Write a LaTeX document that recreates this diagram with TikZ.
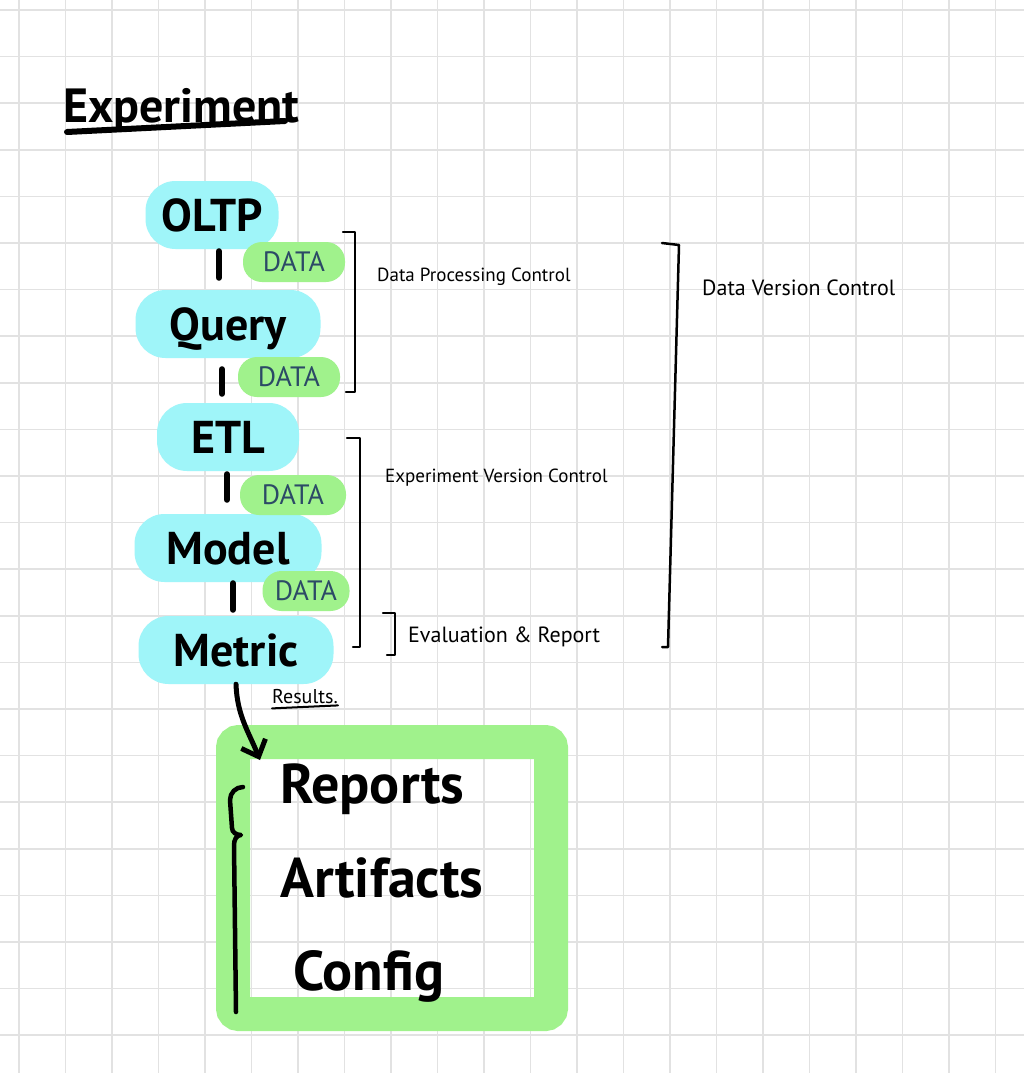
\documentclass[tikz,border=0pt]{standalone}
\usepackage{fontspec}
\setmainfont{PT Sans}
\usetikzlibrary{arrows.meta, positioning}
\definecolor{blobcyan}{HTML}{9FF5F9}
\definecolor{pillgreen}{HTML}{A0F28C}
\definecolor{datatext}{HTML}{2C4A66}
\definecolor{gridgray}{HTML}{E2E2E2}

\begin{document}
\begin{tikzpicture}[x=1pt, y=1pt,
    stage/.style={fill=blobcyan, rounded corners=30pt, inner sep=0pt, minimum height=68pt, text height=33pt, text depth=0pt, font=\bfseries\fontsize{46}{46}\selectfont},
    datapill/.style={fill=pillgreen, rounded corners=19pt, inner sep=0pt, minimum height=40pt, text=datatext, font=\fontsize{28}{28}\selectfont},
    note/.style={anchor=west, inner sep=0pt, font=\fontsize{19}{19}\selectfont},
    pen/.style={line width=2.5pt, line cap=round, line join=round},
    tick/.style={line width=6pt, line cap=round},
    resbox/.style={draw=pillgreen, line width=34pt, rounded corners=6pt, minimum width=318pt, minimum height=272pt},
    item/.style={anchor=base west, inner sep=0pt, font=\bfseries\fontsize{56}{56}\selectfont},
    arrow/.style={-{Straight Barb[length=14pt, width=26pt, line width=5pt]}, line width=5pt, line cap=round},
  ]
  % paper
  \fill[white] (0,0) rectangle (1024,-1073);
  \useasboundingbox (0,0) rectangle (1024,-1073);
  \foreach \gx in {0,...,21}
    \draw[gridgray, line width=1.5pt] (19+46.5*\gx,0) -- (19+46.5*\gx,-1073);
  \foreach \gy in {0,...,22}
    \draw[gridgray, line width=1.5pt] (0,-10-46.6*\gy) -- (1024,-10-46.6*\gy);

  \node[anchor=base west, inner sep=0pt, font=\bfseries\fontsize{48}{48}\selectfont] (title) at (63,-122) {Experiment};
  \draw[line width=6pt, line cap=round] (67,-132) -- (285,-121);

  % pipeline
  \node[stage, minimum width=133pt] (oltp) at (212,-215) {OLTP};
  \node[stage, minimum width=185pt] (query) at (228,-324) {Query};
  \node[stage, minimum width=142pt] (etl) at (228,-437) {ETL};
  \node[stage, minimum width=187pt] (model) at (228,-548) {Model};
  \node[stage, minimum width=195pt] (metric) at (236,-650) {Metric};

  \node[datapill, minimum width=102pt] (d1) at (294,-262) {DATA};
  \node[datapill, minimum width=102pt] (d2) at (289,-377) {DATA};
  \node[datapill, minimum width=106pt] (d3) at (293,-495) {DATA};
  \node[datapill, minimum width=87pt] (d4) at (306,-591) {DATA};

  \draw[tick, shorten <=2pt, shorten >=12pt] ([xshift=7pt]oltp.south) -- ([xshift=7pt]oltp.south |- query.north);
  \draw[tick, shorten <=11pt, shorten >=9pt] ([xshift=-6pt]query.south) -- ([xshift=-6pt]query.south |- etl.north);
  \draw[tick, shorten <=3pt, shorten >=14pt] ([xshift=-1pt]etl.south) -- ([xshift=-1pt]etl.south |- model.north);
  \draw[tick, shorten <=1pt, shorten >=6pt] ([xshift=5pt]model.south) -- ([xshift=5pt]model.south |- metric.north);

  % brackets
  \draw[pen] (343,-232) -- (355,-232) -- (355,-392) -- (346,-392);
  \node[note] (dpc) at (377,-277) {Data Processing Control};
  \draw[pen] (347,-438) -- (360,-438) -- (360,-647) -- (353,-647);
  \node[note] (evc) at (385,-478) {Experiment Version Control};
  \draw[pen] (383,-613) -- (395,-613) -- (395,-655) -- (387,-655);
  \node[note, font=\fontsize{22}{22}\selectfont] (evr) at (408,-637) {Evaluation \& Report};
  \draw[pen] (662,-243) -- (679,-245) -- (668,-647) -- (662,-647);
  \node[note, font=\fontsize{22}{22}\selectfont] (dvc) at (702,-288) {Data Version Control};

  % results
  \node[resbox] (box) at (392,-878) {};
  \node[item] (reports) at (280,-803) {Reports};
  \node[item] (artifacts) at (280,-897) {Artifacts};
  \node[item] (config) at (293,-990) {Config};
  \draw[line width=4.5pt, line cap=round, line join=round] (243,-787) to[out=180, in=90] (230,-800) -- (232,-828) to[out=-90, in=180] (241,-835) to[out=180, in=90] (234,-845) -- (236,-1012);

  \coordinate (boxin) at (260,-760);
  \draw[arrow] (metric.south) to[out=-88, in=112] (boxin);
  \node[anchor=west, inner sep=0pt, font=\fontsize{20}{20}\selectfont] (reslbl) at (272,-697) {Results.};
  \draw[line width=2pt, line cap=round] ([yshift=-4pt]reslbl.south west) -- ([yshift=-1pt]reslbl.south east);
\end{tikzpicture}
\end{document}
